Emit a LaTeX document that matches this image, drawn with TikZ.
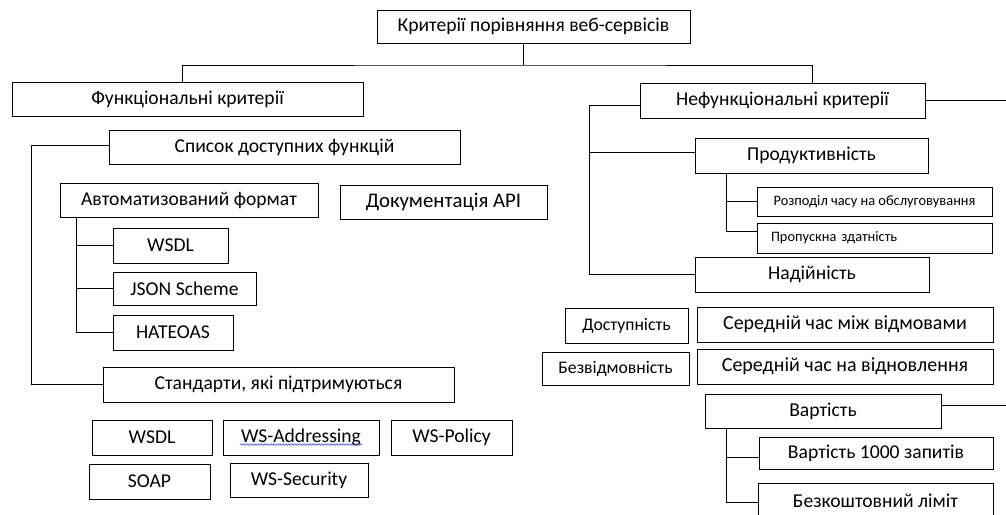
\documentclass[tikz,border=0pt]{standalone}
\usepackage{fontspec}
\setmainfont{Carlito}
\usetikzlibrary{decorations.pathmorphing}

\begin{document}
\begin{tikzpicture}[box/.style={draw, line width=1pt, inner sep=0pt, minimum height=35pt, font=\fontsize{19.6pt}{23pt}\selectfont}, tiny/.style={box, font=\fontsize{14.4pt}{17pt}\selectfont}, mid/.style={box, font=\fontsize{17.7pt}{21pt}\selectfont}, wide/.style={box, font=\fontsize{20pt}{24pt}\selectfont}, tree/.style={line width=1pt}]
  \path[use as bounding box, fill=white] (0pt,0pt) rectangle (1006pt,-514pt);

  \draw (533.5pt, -26.5pt)node[box, minimum width=313pt, minimum height=33pt](root){Критерії порівняння веб-сервісів};
  \draw (187.5pt, -99.0pt)node[box, minimum width=351pt, minimum height=34pt](func){Функціональні критерії};
  \draw (782.5pt, -100.5pt)node[box, minimum width=285pt](nonfunc){Нефункціональні критерії};

  \draw (284.5pt, -147.0pt)node[box, minimum width=351pt, minimum height=34pt](spysok){Список доступних функцій};
  \draw (189.0pt, -200.0pt)node[box, minimum width=258pt, minimum height=34pt](avto){Автоматизований формат};
  \draw (443.5pt, -202.0pt)node[box, minimum width=207pt, minimum height=34pt, font=\fontsize{20.8pt}{24pt}\selectfont](docapi){Документація API};
  \draw (170.5pt, -245.5pt)node[box, minimum width=115pt](wsdl){WSDL};
  \draw (184.5pt, -288.5pt)node[box, minimum width=143pt, minimum height=33pt](json){JSON Scheme};
  \draw (173.0pt, -332.5pt)node[box, minimum width=120pt](hateoas){HATEOAS};
  \draw (278.5pt, -384.5pt)node[box, minimum width=351pt](standart){Стандарти, які підтримуються};
  \draw (152.0pt, -437.5pt)node[box, minimum width=120pt](wsdlstd){WSDL};
  \draw (301.0pt, -437.5pt)node[box, minimum width=156pt](wsaddr){WS-Addressing};
  \draw (451.5pt, -437.5pt)node[box, minimum width=121pt](wspolicy){WS-Policy};
  \draw (149.5pt, -481.5pt)node[box, minimum width=121pt](soap){SOAP};
  \draw (299.0pt, -480.0pt)node[box, minimum width=138pt, minimum height=34pt](wssec){WS-Security};

  \draw (811.5pt, -155.5pt)node[box, minimum width=233pt](prod){Продуктивність};
  \draw (874.5pt, -201.5pt)node[tiny, minimum width=235pt, minimum height=29pt](rozpodil){Розподіл часу на обслуговування};
  \draw (874.5pt, -238.0pt)node[tiny, minimum height=30pt, text width=207pt, inner xsep=14pt, align=left](propusk){Пропускна здатність};
  \draw (812.0pt, -274.5pt)node[box, minimum width=234pt](nadiy){Надійність};
  \draw (626.5pt, -325.5pt)node[mid, minimum width=123pt](dostup){Доступність};
  \draw (845.0pt, -324.5pt)node[wide, minimum width=296pt](mtbf){Середній час між відмовами};
  \draw (615.5pt, -368.5pt)node[mid, minimum width=147pt, minimum height=33pt](bezvidm){Безвідмовність};
  \draw (845.0pt, -366.5pt)node[wide, minimum width=296pt](mttr){Середній час на відновлення};
  \draw (823.0pt, -411.0pt)node[box, minimum width=236pt, minimum height=34pt](vartist){Вартість};
  \draw (876.0pt, -453.0pt)node[box, minimum width=234pt, minimum height=32pt](v1000){Вартість 1000 запитів};
  \draw (875.5pt, -500.5pt)node[box, minimum width=235pt](bezkosht){Безкоштовний ліміт};

  % top level
  \coordinate (bus) at (523pt, -65pt);
  \draw[tree] (root.south -| bus) -- (bus);
  \draw[tree] ([xshift=-5pt]func.north) |- (bus) -| ([xshift=30pt]nonfunc.north);
  \draw[tree] (nonfunc.east) -- ++(85pt, 0pt);

  % functional branch
  \draw[tree] ([yshift=2pt]spysok.west) -- ++(-77pt, 0pt) |- (standart.west);
  \coordinate (avtoleg) at ([xshift=17pt]avto.south west);
  \draw[tree] (avtoleg) |- (wsdl.west);
  \draw[tree] (avtoleg) |- (json.west);
  \draw[tree] (avtoleg) |- (hateoas.west);
  \draw[blue!75, line width=0.6pt, decorate, decoration={snake, amplitude=0.8pt, segment length=3pt}] ([xshift=-61pt, yshift=-7pt]wsaddr.center) -- ([xshift=61pt, yshift=-7pt]wsaddr.center);

  % non-functional branch
  \coordinate (nfleg) at ([xshift=-50pt, yshift=-4.5pt]nonfunc.west);
  \draw[tree] (nonfunc.west |- nfleg) -- (nfleg) |- (nadiy.west);
  \draw[tree] (nfleg) |- ([yshift=3.5pt]prod.west);
  \coordinate (prodleg) at ([xshift=32pt]prod.south west);
  \draw[tree] (prodleg) |- (rozpodil.west);
  \draw[tree] (prodleg) |- ([yshift=7pt]propusk.west);
  \coordinate (vartleg) at ([xshift=22pt]vartist.south west);
  \draw[tree] ([yshift=6pt]vartist.east) -- ++(70pt, 0pt);
  \draw[tree] (vartleg) |- ([yshift=-4pt]v1000.west);
  \draw[tree] (vartleg) |- ([yshift=-1.5pt]bezkosht.west);
\end{tikzpicture}
\end{document}
